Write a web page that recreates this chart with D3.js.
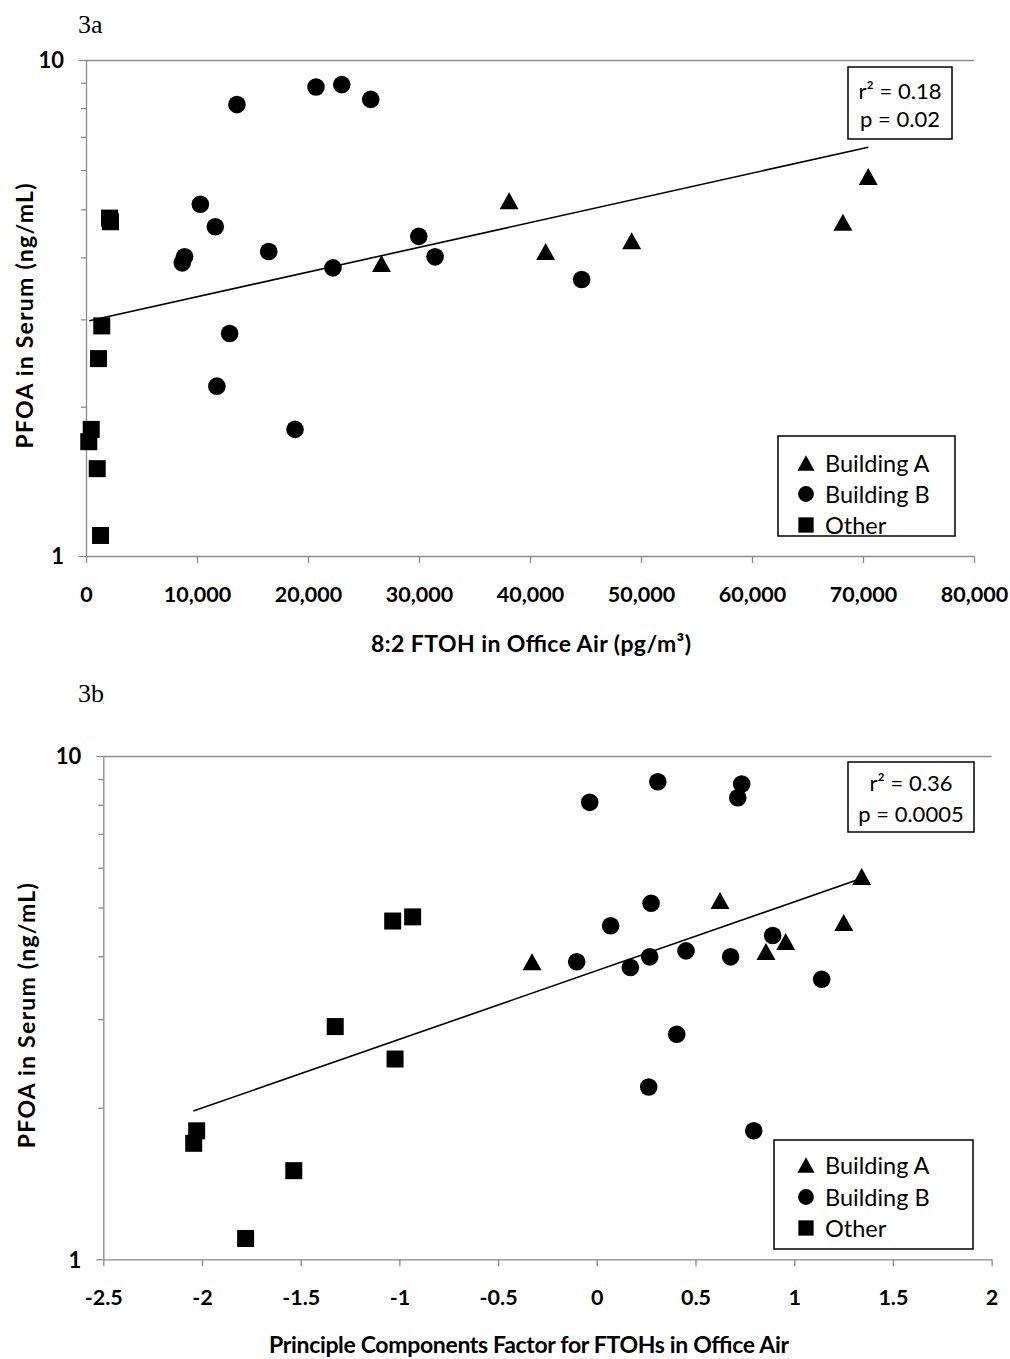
<!DOCTYPE html>
<html><head><meta charset="utf-8">
<script src="https://cdn.jsdelivr.net/npm/d3@7"></script>
<style>body{margin:0;background:#fff} svg{display:block;background:#fff}</style>
</head><body><svg id="c" width="1010" height="1359"></svg>
<script>
// ---------- DATA ----------
// Panel 3a: x = 8:2 FTOH in office air (pg/m3), y = PFOA in serum (ng/mL)
const aBuildingA = [[26620,3.89],[38120,5.20],[41410,4.11],[49160,4.32],[68190,4.71],[70470,5.82]];
const aBuildingB = [[13600,8.13],[20720,8.82],[23040,8.92],[25650,8.33],[10300,5.12],[11650,4.61],
                    [8880,4.01],[8670,3.90],[16460,4.11],[22250,3.81],[29980,4.41],[31450,4.01],
                    [44650,3.61],[12940,2.81],[11790,2.20],[18830,1.80]];
const aOther = [[2120,4.80],[2210,4.72],[1420,2.91],[1130,2.50],[470,1.80],[250,1.70],[1010,1.50],[1310,1.10]];
const aTrend = [[300,2.98],[70480,6.67]];
const aXTicks = [0,10000,20000,30000,40000,50000,60000,70000,80000];
const aStats = ["r\u00B2 = 0.18","p = 0.02"];

// Panel 3b: x = principal components factor, y = PFOA in serum (ng/mL)
const bBuildingA = [[-0.328,3.90],[0.624,5.16],[0.857,4.09],[0.957,4.28],[1.251,4.67],[1.342,5.76]];
const bBuildingB = [[-0.036,8.09],[0.309,8.89],[0.734,8.80],[0.714,8.26],[0.275,5.10],[0.070,4.60],
                    [-0.102,3.90],[0.170,3.80],[0.268,3.99],[0.452,4.10],[0.678,3.99],[0.891,4.40],
                    [1.139,3.60],[0.405,2.80],[0.263,2.20],[0.795,1.80]];
const bOther = [[-1.034,4.70],[-0.933,4.79],[-1.325,2.90],[-1.022,2.50],[-2.027,1.80],[-2.042,1.70],[-1.535,1.50],[-1.779,1.10]];
const bTrend = [[-2.044,1.97],[1.318,5.67]];
const bXTicks = [-2.5,-2,-1.5,-1,-0.5,0,0.5,1,1.5,2];
const bStats = ["r\u00B2 = 0.36","p = 0.0005"];

const yMajorTicks = [1,10];
const yMinorTicks = [2,3,4,5,6,7,8,9];
const legendLabels = ["Building A","Building B","Other"];
const yTitle = "PFOA in Serum (ng/mL)";

// ---------- DRAWING ----------
const svg = d3.select("#c");
const AXIS = "#8a8a8a";
const SANS = "Lato, 'Open Sans', 'DejaVu Sans', sans-serif";

function triPath(w,h){ const p=d3.path(); p.moveTo(0,-h/2); p.lineTo(w/2,h/2); p.lineTo(-w/2,h/2); p.closePath(); return p.toString(); }
const shapes = [
  triPath(19,17),
  d3.symbol(d3.symbolCircle, Math.PI*8.8*8.8)(),
  d3.symbol(d3.symbolSquare, 17*17)()
];

function panel(cfg){
  const g = svg.append("g");
  const x = d3.scaleLinear().domain(cfg.xDomain).range([cfg.left, cfg.right]);
  const y = d3.scaleLog().domain([1,10]).range([cfg.bottom, cfg.top]);

  g.append("text").attr("x", cfg.labelX).attr("y", cfg.labelY)
    .attr("font-family","'Liberation Serif','Times New Roman',serif").attr("font-size",26)
    .text(cfg.label);

  g.append("line").attr("x1",cfg.left).attr("x2",cfg.right)
    .attr("y1",y(10)+0.5).attr("y2",y(10)+0.5).attr("stroke",AXIS).attr("stroke-width",1.3);

  const ya = g.append("g").attr("transform",`translate(${cfg.left},0)`)
    .call(d3.axisLeft(y).tickValues(yMajorTicks).tickSize(7).tickSizeOuter(0).tickFormat(d3.format("d")));
  ya.selectAll("text").attr("x",-22).attr("dy","0.35em")
    .attr("font-family",SANS).attr("font-weight","bold").attr("font-size",22).attr("fill","#000");
  const ym = g.append("g").attr("transform",`translate(${cfg.left},0)`)
    .call(d3.axisLeft(y).tickValues(yMinorTicks).tickSize(5).tickSizeOuter(0).tickFormat(""));
  ym.select(".domain").remove();

  const xa = g.append("g").attr("transform",`translate(0,${cfg.bottom})`)
    .call(d3.axisBottom(x).tickValues(cfg.xTicks).tickSize(7).tickSizeOuter(0).tickFormat(cfg.xFormat));
  xa.selectAll("text").attr("y",38).attr("dy","0.35em")
    .attr("font-family",SANS).attr("font-weight","bold").attr("font-size",21.5).attr("fill","#000");

  [ya,ym,xa].forEach(a=>{ a.selectAll("line,path").attr("stroke",AXIS).attr("stroke-width",1.3); });

  g.append("text").attr("transform",`translate(${cfg.yTitleX},${(cfg.top+cfg.bottom)/2+8}) rotate(-90)`)
    .attr("text-anchor","middle").attr("dominant-baseline","central")
    .attr("font-family",SANS).attr("font-weight","bold").attr("font-size",23)
    .attr("textLength",265).attr("lengthAdjust","spacing").text(yTitle);
  g.append("text").attr("x",cfg.xTitleX).attr("y",cfg.bottom+cfg.xTitleDy)
    .attr("text-anchor","middle").attr("dominant-baseline","central")
    .attr("font-family",SANS).attr("font-weight","bold").attr("font-size",23)
    .attr("textLength",cfg.xTitleLen).attr("lengthAdjust","spacing").text(cfg.xTitle);

  cfg.series.forEach((s,i)=>{
    g.append("g").selectAll("path").data(s).join("path")
      .attr("d",shapes[i]).attr("fill","#000")
      .attr("transform",d=>`translate(${x(d[0])},${y(d[1])})`);
  });

  g.append("path").datum(cfg.trend)
    .attr("d", d3.line().x(d=>x(d[0])).y(d=>y(d[1])))
    .attr("fill","none").attr("stroke","#000").attr("stroke-width",1.6);

  const sb = cfg.statsBox;
  g.append("rect").attr("x",sb[0]).attr("y",sb[1]).attr("width",sb[2]-sb[0]).attr("height",sb[3]-sb[1])
    .attr("fill","#fff").attr("stroke","#000").attr("stroke-width",1.5);
  cfg.stats.forEach((t,i)=>{
    g.append("text").attr("x",(sb[0]+sb[2])/2).attr("y",cfg.statsRows[i])
      .attr("text-anchor","middle").attr("dominant-baseline","central")
      .attr("font-family",SANS).attr("font-size",22).text(t);
  });

  const lb = cfg.legendBox;
  g.append("rect").attr("x",lb[0]).attr("y",lb[1]).attr("width",lb[2]-lb[0]).attr("height",lb[3]-lb[1])
    .attr("fill","#fff").attr("stroke","#000").attr("stroke-width",1.5);
  legendLabels.forEach((t,i)=>{
    const cy = cfg.legendRows[i];
    g.append("path").attr("d",shapes[i]).attr("fill","#000")
      .attr("transform",`translate(${cfg.legendMarkX},${cy}) scale(0.9)`);
    g.append("text").attr("x",cfg.legendMarkX+19).attr("y",cy)
      .attr("dominant-baseline","central").attr("font-family",SANS).attr("font-size",23.5).text(t);
  });
}

panel({
  label:"3a", labelX:78, labelY:33,
  left:86, right:974, top:60, bottom:556,
  xDomain:[0,80000], xTicks:aXTicks, xFormat:d3.format(","),
  xTitle:"8:2 FTOH in Office Air (pg/m\u00B3)", xTitleX:531, xTitleDy:87, xTitleLen:320, yTitleX:24,
  series:[aBuildingA,aBuildingB,aOther], trend:aTrend,
  stats:aStats, statsBox:[848,67,952,139], statsRows:[90,118],
  legendBox:[778,436,955,536], legendMarkX:806, legendRows:[463,494,525]
});
panel({
  label:"3b", labelX:78, labelY:702,
  left:103.3, right:991.6, top:756, bottom:1259.3,
  xDomain:[-2.5,2], xTicks:bXTicks, xFormat:d=>String(d),
  xTitle:"Principle Components Factor for FTOHs in Office Air", xTitleX:529, xTitleDy:85, xTitleLen:520, yTitleX:26,
  series:[bBuildingA,bBuildingB,bOther], trend:bTrend,
  stats:bStats, statsBox:[848,762,974,832], statsRows:[782,813],
  legendBox:[774,1140,973,1249], legendMarkX:806, legendRows:[1165,1197,1228]
});
</script>
</body></html>
